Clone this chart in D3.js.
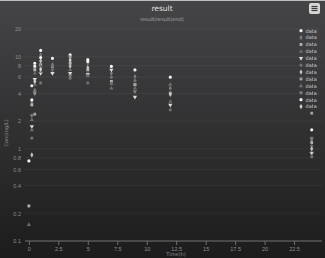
<!DOCTYPE html>
<html>
<head>
<meta charset="utf-8">
<script src="https://cdn.jsdelivr.net/npm/d3@7.9.0/dist/d3.min.js"></script>
<style>
  html, body { margin: 0; padding: 0; background: #2a2a2b; }
  svg { display: block; font-family: "DejaVu Sans", Roboto, sans-serif; }
</style>
</head>
<body>
<svg id="chart" width="325" height="258"></svg>
<script>
// sampling times (h)
const times = [0, 0.25, 0.5, 1, 2, 3.5, 5, 7, 9, 12, 24];

// one array per subject, concentration (ng/L) at each time, null = not shown
const s1  = [0.74, 4.84, 8.5,  11.7, 9.6,  10.5, 9.3,  7.85, 7.2,  6.0,  1.61];
const s2  = [null, 3.16, 7.5,  10.5, 8.2,  8.6,  8.5,  6.6,  6.1,  4.56, 1.27];
const s3  = [0.24, 3.0,  7.2,  8.2,  7.85, 8.5,  7.2,  5.4,  4.95, 4.03, 1.17];
const s4  = [0.15, 2.07, 6.6,  7.85, 6.8,  7.2,  6.6,  4.56, 4.56, 3.27, 1.08];
const s5  = [null, 1.75, 5.7,  6.6,  6.6,  6.6,  6.4,  7.2,  3.65, 3.0,  0.90];
const s6  = [null, 1.31, 4.38, 5.2,  8.0,  5.85, 5.2,  6.0,  5.5,  2.65, 0.82];
const s7  = [null, 0.86, 4.03, 9.0,  null, 7.9,  7.6,  null, null, 3.9,  1.0];
const s8  = [null, null, 2.38, null, null, 10.0, null, null, 5.0,  null, 2.44];
const s9  = [null, 1.6,  5.0,  6.9,  7.3,  null, 6.2,  5.1,  null, 5.0,  null];
const s10 = [null, 2.3,  4.1,  null, null, 6.2,  null, null, 4.2,  null, 1.3];
const s11 = [null, 3.4,  7.9,  9.8,  null, null, 8.9,  null, null, null, null];
const s12 = [null, null, 5.4,  7.3,  null, 9.2,  null, null, null, null, null];

const seriesValues = [s1, s2, s3, s4, s5, s6, s7, s8, s9, s10, s11, s12];
const seriesNames = seriesValues.map(() => "data");

const xTicks = [0, 2.5, 5, 7.5, 10, 12.5, 15, 17.5, 20, 22.5];
const yTicks = [0.1, 0.2, 0.4, 0.6, 0.8, 1, 2, 4, 6, 8, 10, 20];

const colors = ['#f2f2f2', '#7c7c7c', '#b4b4b4', '#6a6a6a', '#dcdcdc', '#727272',
                '#c4c4c4', '#a2a2a2', '#6e6e6e', '#828282', '#f2f2f2', '#d2d2d2'];

const svg = d3.select("#chart");
const W = 325, H = 258;

// background
const defs = svg.append("defs");
const grad = defs.append("linearGradient").attr("id", "bg")
  .attr("x1", 0).attr("y1", 0).attr("x2", 0).attr("y2", 1);
grad.append("stop").attr("offset", "0%").attr("stop-color", "#454547");
grad.append("stop").attr("offset", "100%").attr("stop-color", "#1c1c1d");
svg.append("rect").attr("width", W).attr("height", H).attr("fill", "url(#bg)");
svg.append("rect").attr("width", W).attr("height", 1).attr("fill", "#bdbdbd");
defs.append("filter").attr("id", "soft").append("feGaussianBlur").attr("stdDeviation", 0.35);

const x = d3.scaleLinear().domain([-0.33, 25]).range([25, 323.5]);
const y = d3.scaleLog().domain([0.1, 20]).range([241, 29]);

// grid
svg.append("g").selectAll("line").data(yTicks).join("line")
  .attr("x1", 25).attr("x2", 322)
  .attr("y1", d => y(d)).attr("y2", d => y(d))
  .attr("stroke", "#ffffff").attr("stroke-opacity", 0.05).attr("stroke-width", 1);

// x axis
const xAxis = svg.append("g").attr("transform", "translate(0,241)")
  .call(d3.axisBottom(x).tickValues(xTicks).tickSize(4).tickFormat(d3.format("")));
xAxis.select(".domain").attr("stroke", "#6f6f72").attr("d", "M25,0H322");
xAxis.selectAll(".tick line").attr("stroke", "#6f6f72");
xAxis.selectAll(".tick text").attr("fill", "#8e8e90").attr("font-size", 5.5).attr("dy", "0.55em");

// y axis (labels only)
const yAxis = svg.append("g").attr("transform", "translate(21,0)")
  .call(d3.axisLeft(y).tickValues(yTicks).tickSize(0).tickFormat(d3.format("")));
yAxis.select(".domain").remove();
yAxis.selectAll(".tick text").attr("fill", "#8e8e90").attr("font-size", 5.5).attr("x", 0);

// titles
svg.append("text").attr("x", 162).attr("y", 11).attr("text-anchor", "middle")
  .attr("fill", "#e0e0e3").attr("font-size", 7.5).text("result");
svg.append("text").attr("x", 162).attr("y", 21).attr("text-anchor", "middle")
  .attr("fill", "#a8a8aa").attr("font-size", 5).text("result/result(end)");
svg.append("text").attr("x", 176).attr("y", 256).attr("text-anchor", "middle")
  .attr("fill", "#8e8e90").attr("font-size", 5).text("Time(h)");
svg.append("text").attr("transform", "translate(8,133) rotate(-90)").attr("text-anchor", "middle")
  .attr("fill", "#8e8e90").attr("font-size", 5).text("Conc(ng/L)");

// menu button
const btn = svg.append("g").attr("transform", "translate(309,3)");
btn.append("rect").attr("width", 11).attr("height", 11).attr("rx", 2).attr("fill", "#d6d6d6");
[3.5, 5.5, 7.5].forEach(v => btn.append("line").attr("x1", 2.5).attr("x2", 8.5)
  .attr("y1", v).attr("y2", v).attr("stroke", "#3a3a3a").attr("stroke-width", 1.2));

// markers
const symbolTypes = [d3.symbolCircle, d3.symbolDiamond, d3.symbolSquare, d3.symbolTriangle, "down"];
function markerPath(i, size) {
  const t = symbolTypes[i % symbolTypes.length];
  if (t === "down") return d3.symbol(d3.symbolTriangle, size)();
  return d3.symbol(t, size)();
}
function markerRot(i) { return symbolTypes[i % symbolTypes.length] === "down" ? " rotate(180)" : ""; }

seriesValues.forEach((vals, i) => {
  const pts = times.map((t, k) => ({ t, v: vals[k] })).filter(d => d.v != null);
  svg.append("g").attr("filter", "url(#soft)").selectAll("path").data(pts).join("path")
    .attr("d", markerPath(i, 8))
    .attr("transform", d => `translate(${x(d.t)},${y(d.v)})${markerRot(i)}`)
    .attr("fill", colors[i]);
});

// legend
const leg = svg.append("g").selectAll("g").data(seriesNames).join("g")
  .attr("transform", (d, i) => `translate(301,${30.7 + i * 6.9})`);
leg.append("path").attr("d", (d, i) => markerPath(i, 8))
  .attr("transform", (d, i) => "translate(0,0)" + markerRot(i))
  .attr("fill", (d, i) => colors[i]);
leg.append("text").attr("x", 4.5).attr("y", 1.8).attr("fill", "#cfcfd1")
  .attr("font-size", 5).text(d => d);
</script>
</body>
</html>
